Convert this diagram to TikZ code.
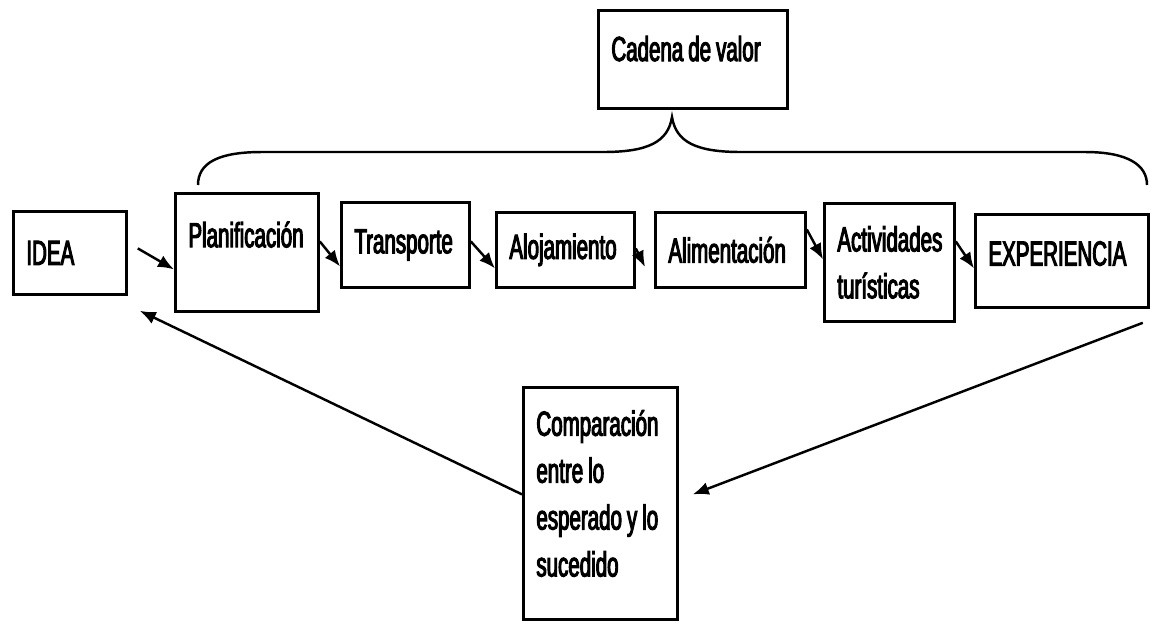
\documentclass[tikz,border=0pt]{standalone}
\usepackage{fontspec}
\setmainfont{Liberation Sans}[FakeStretch=0.59,FakeBold=3]
\usetikzlibrary{arrows.meta}

\newcommand\boxfont{\fontsize{19.8}{26.7}\selectfont\spaceskip=0.1cm plus 0.03cm minus 0.02cm\relax}

\tikzset{
  box/.style={draw, line width=1.6pt, anchor=north west, align=flush left,
    inner xsep=0.26cm, inner ysep=0pt, font=\boxfont},
  flow/.style={-{Latex[length=0.32cm,width=0.26cm]}, line width=1.4pt}
}

\begin{document}
\begin{tikzpicture}[x=0.02cm,y=-0.02cm]
\useasboundingbox (0,0) rectangle (1151,623);

% value chain boxes
\node[box, minimum width=2.26cm, minimum height=1.66cm, text width=1.74cm] (idea) at (12,210) {IDEA};
\node[box, minimum width=2.86cm, minimum height=2.36cm, text width=2.34cm, text depth=0.72cm] (plan) at (174,192) {Planificación};
\node[box, minimum width=2.56cm, minimum height=1.70cm, text width=2.04cm] (trans) at (340,201) {Transporte};
\node[box, minimum width=2.76cm, minimum height=1.50cm, text width=2.24cm] (aloj) at (495,211) {Alojamiento};
\node[box, minimum width=3.00cm, minimum height=1.50cm, text width=2.48cm] (alim) at (654,211) {Alimentación};
\node[box, minimum width=2.60cm, minimum height=2.36cm, text width=2.08cm] (activ) at (823,202) {Actividades\\turísticas};
\node[box, minimum width=3.46cm, minimum height=1.86cm, text width=2.94cm, text depth=0.3cm] (exp) at (974,213) {EXPERIENCIA};

\node[box, minimum width=3.78cm, minimum height=1.96cm, text width=3.26cm, text depth=0.44cm] (cadena) at (597,9) {Cadena de valor};
\node[box, minimum width=3.08cm, minimum height=4.64cm, text width=2.56cm, text depth=3.22cm] (comp) at (522,386) {Comparación\\entre lo\\esperado y lo\\sucedido};

% brace under Cadena de valor
\draw[line width=1.4pt] (198,185) .. controls (198,163) and (218,152) .. (262,152) -- (603,152)
  .. controls (648,152) and (668,142) .. (672,117)
  .. controls (676,142) and (696,152) .. (741,152) -- (1085,152)
  .. controls (1128,152) and (1147,165) .. (1147,185);

% arrows
\draw[flow] ([xshift=0.2cm,yshift=0.09cm]idea.east) -- ([yshift=-0.34cm]plan.west);
\draw[flow] ([yshift=0.22cm]plan.east) -- ([yshift=-0.43cm]trans.west);
\draw[flow] ([yshift=0.07cm]trans.east) -- ([yshift=-0.37cm]aloj.west);
\draw[flow] ([yshift=0.03cm]aloj.east) -- ([xshift=-0.18cm,yshift=-0.34cm]alim.west);
\draw[flow] ([yshift=0.41cm]alim.east) -- ([yshift=0.06cm]activ.west);
\draw[flow] ([yshift=0.42cm]activ.east) -- ([yshift=-0.15cm]exp.west);
\draw[flow] ([xshift=-0.14cm,yshift=-0.28cm]exp.south east) -- ([xshift=0.28cm,yshift=0.18cm]comp.east);
\draw[flow] ([yshift=0.18cm]comp.west) -- ([xshift=0.24cm,yshift=-0.3cm]idea.south east);
\end{tikzpicture}
\end{document}
